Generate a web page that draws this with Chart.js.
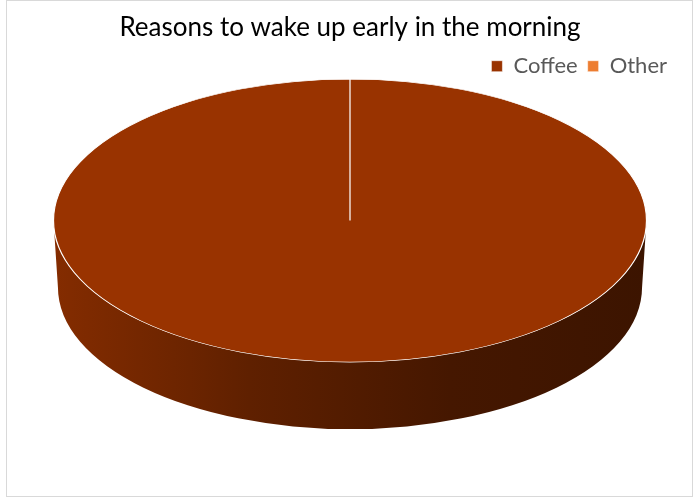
<!DOCTYPE html>
<html>
<head>
<meta charset="utf-8">
<script src="https://cdn.jsdelivr.net/npm/chart.js@4/dist/chart.umd.min.js"></script>
<style>
  html, body { margin: 0; padding: 0; background: #ffffff; }
  #wrap { position: relative; width: 700px; height: 498px; }
</style>
</head>
<body>
<div id="wrap"><canvas id="c" width="700" height="498"></canvas></div>
<script>
// ---- data ----
const chartTitle = 'Reasons to wake up early in the morning';
const categories = ['Coffee', 'Other'];
const values = [100, 0];
const sliceColors = ['#993300', '#ED7D31'];

// ---- 3D look (style only) ----
const tilt = { rx: 296.5, ry: 141.5, depth: 67, bottomShrink: 0.985 };

function shade(hex, f) {
  const n = parseInt(hex.slice(1), 16);
  const r = Math.round(((n >> 16) & 255) * f);
  const g = Math.round(((n >> 8) & 255) * f);
  const b = Math.round((n & 255) * f);
  return `rgb(${r},${g},${b})`;
}

const frame = {
  id: 'frame',
  beforeDraw(chart) {
    const ctx = chart.ctx;
    ctx.save();
    ctx.fillStyle = '#ffffff';
    ctx.fillRect(0, 0, chart.width, chart.height);
    ctx.strokeStyle = '#d9d9d9';
    ctx.lineWidth = 1;
    ctx.strokeRect(6.5, 0.5, 686, 496);
    ctx.restore();
  }
};

const pie3d = {
  id: 'pie3d',
  beforeDatasetsDraw(chart) {
    const ctx = chart.ctx;
    const meta = chart.getDatasetMeta(0);
    const first = meta.data[0];
    const cx = first.x, cy = first.y, r0 = first.outerRadius;
    const RX = tilt.rx, RY = tilt.ry, D = tilt.depth;
    const RXb = RX * tilt.bottomShrink;
    // side walls of each slice that faces the viewer (front half: canvas angles 0..PI)
    meta.data.forEach((arc, i) => {
      const span = arc.endAngle - arc.startAngle;
      if (span <= 0) return;
      const s = arc.startAngle, e = arc.endAngle;
      const segs = [];
      for (let k = -1; k <= 1; k++) {
        const a = Math.max(s, k * 2 * Math.PI), b = Math.min(e, k * 2 * Math.PI + Math.PI);
        if (b > a) segs.push([a, b]);
      }
      const base = sliceColors[i];
      segs.forEach(([a, b]) => {
        const g = ctx.createLinearGradient(cx - RX, 0, cx + RX, 0);
        g.addColorStop(0, shade(base, 0.86));
        g.addColorStop(0.23, shade(base, 0.70));
        g.addColorStop(0.33, shade(base, 0.62));
        g.addColorStop(0.67, shade(base, 0.45));
        g.addColorStop(1, shade(base, 0.39));
        ctx.save();
        ctx.beginPath();
        ctx.ellipse(cx, cy, RX, RY, 0, a, b, false);
        ctx.ellipse(cx, cy + D, RXb, RY, 0, b, a, true);
        ctx.closePath();
        ctx.fillStyle = g;
        ctx.fill();
        ctx.restore();
      });
    });
    // flatten the top face into an ellipse
    ctx.save();
    ctx.translate(cx, cy);
    ctx.scale(RX / r0, RY / r0);
    ctx.translate(-cx, -cy);
  },
  afterDatasetsDraw(chart) {
    chart.ctx.restore();
  }
};

new Chart(document.getElementById('c'), {
  type: 'pie',
  data: {
    labels: categories,
    datasets: [{
      data: values,
      backgroundColor: sliceColors,
      borderColor: '#ffffff',
      borderWidth: 0.55
    }]
  },
  options: {
    responsive: false,
    animation: false,
    events: [],
    layout: { padding: { top: 0, left: 23, right: 23, bottom: 144 } },
    plugins: {
      title: {
        display: true,
        text: chartTitle,
        color: '#000000',
        font: { family: 'Lato', size: 26, weight: 'normal' },
        padding: { top: 12, bottom: 2 }
      },
      legend: {
        display: true,
        position: 'top',
        align: 'end',
        labels: {
          color: '#595959',
          font: { family: 'Lato', size: 22 },
          boxWidth: 11,
          boxHeight: 11,
          padding: 10
        }
      },
      tooltip: { enabled: false }
    }
  },
  plugins: [frame, pie3d]
});
</script>
</body>
</html>
